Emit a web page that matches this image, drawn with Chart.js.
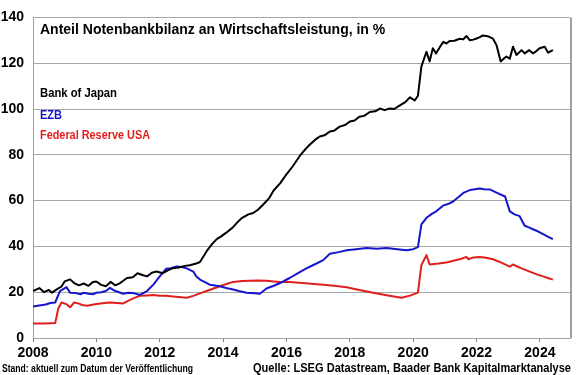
<!DOCTYPE html>
<html>
<head>
<meta charset="utf-8">
<script src="https://cdn.jsdelivr.net/npm/chart.js@4"></script>
<style>
  html, body { margin: 0; padding: 0; background: #fff; }
  #wrap { width: 580px; height: 375px; }
</style>
</head>
<body>
<div id="wrap"><canvas id="myChart" width="580" height="375"></canvas></div>
<script>
// Anteil Notenbankbilanz an Wirtschaftsleistung, in %
const titleText = 'Anteil Notenbankbilanz an Wirtschaftsleistung, in %';
const seriesNames = ['Bank of Japan', 'EZB', 'Federal Reserve USA'];
const noteLeft = 'Stand: aktuell zum Datum der Veröffentlichung';
const noteRight = 'Quelle: LSEG Datastream, Baader Bank Kapitalmarktanalyse';
const yearTicks = [2008, 2010, 2012, 2014, 2016, 2018, 2020, 2022, 2024];
const valueTicks = [0, 20, 40, 60, 80, 100, 120, 140];

// Bank of Japan (year as decimal, share in %)
const bojYears = [2008.0, 2008.2, 2008.35, 2008.5, 2008.6, 2008.75, 2008.9, 2009.0, 2009.17, 2009.3,
  2009.45, 2009.6, 2009.75, 2009.9, 2010.0, 2010.15, 2010.3, 2010.45, 2010.6, 2010.75,
  2010.97, 2011.15, 2011.3, 2011.45, 2011.6, 2011.75, 2011.9, 2012.1, 2012.25, 2012.4,
  2012.6, 2012.8, 2012.95, 2013.15, 2013.27, 2013.4, 2013.5, 2013.65, 2013.8, 2013.95,
  2014.1, 2014.3, 2014.45, 2014.6, 2014.8, 2014.95, 2015.1, 2015.26, 2015.45, 2015.6,
  2015.8, 2016.0, 2016.2, 2016.42, 2016.6, 2016.74, 2016.9, 2017.05, 2017.2, 2017.37,
  2017.5, 2017.68, 2017.85, 2018.0, 2018.15, 2018.3, 2018.45, 2018.63, 2018.8, 2018.95,
  2019.1, 2019.26, 2019.4, 2019.58, 2019.75, 2019.9, 2020.05, 2020.15, 2020.26, 2020.42,
  2020.52, 2020.62, 2020.72, 2020.84, 2020.95, 2021.05, 2021.15, 2021.3, 2021.47, 2021.58,
  2021.68, 2021.79, 2021.9, 2022.0, 2022.1, 2022.2, 2022.35, 2022.52, 2022.63, 2022.76,
  2022.94, 2023.05, 2023.15, 2023.26, 2023.42, 2023.52, 2023.66, 2023.78, 2023.88, 2023.99,
  2024.15, 2024.26, 2024.41];
const bojValues = [20.5, 21.8, 20.0, 21.0, 19.8, 21.2, 22.5, 24.7, 25.6, 24.0,
  23.0, 23.8, 22.8, 24.5, 24.7, 23.2, 22.6, 24.5, 23.0, 24.0,
  26.2, 26.5, 28.3, 27.5, 26.9, 28.5, 29.0, 28.3, 29.5, 30.4,
  30.8, 31.5, 31.8, 32.5, 33.2, 36.0, 38.3, 41.0, 43.2, 44.5,
  46.0, 48.2, 50.5, 52.5, 54.0, 54.6, 56.0, 58.2, 61.0, 64.5,
  67.5, 71.5, 75.0, 79.5, 82.5, 84.5, 86.5, 88.0, 88.5, 90.2,
  90.5, 92.3, 93.0, 94.5, 95.0, 96.6, 97.0, 98.7, 99.0, 100.2,
  99.5, 100.2, 100.0, 101.6, 103.0, 105.1, 103.7, 105.8, 118.6, 125.0,
  120.8, 126.5, 124.3, 127.0, 129.3, 128.6, 129.7, 129.8, 130.7, 130.4,
  131.9, 130.0, 130.3, 130.8, 131.4, 132.1, 131.8, 130.7, 127.9, 120.8,
  122.9, 122.0, 127.2, 123.6, 125.7, 124.3, 125.7, 124.3, 125.2, 126.5,
  127.2, 124.6, 125.7];

// EZB
const ezbYears = [2008.0, 2008.2, 2008.4, 2008.55, 2008.7, 2008.85, 2009.06, 2009.17, 2009.35, 2009.5,
  2009.6, 2009.75, 2009.9, 2010.0, 2010.15, 2010.3, 2010.43, 2010.6, 2010.85, 2011.0,
  2011.2, 2011.37, 2011.6, 2011.8, 2012.0, 2012.2, 2012.35, 2012.53, 2012.7, 2012.85,
  2013.06, 2013.15, 2013.27, 2013.58, 2013.9, 2014.1, 2014.32, 2014.5, 2014.74, 2015.0,
  2015.16, 2015.37, 2015.6, 2015.8, 2016.1, 2016.35, 2016.63, 2016.9, 2017.16, 2017.37,
  2017.65, 2017.9, 2018.2, 2018.53, 2018.85, 2019.16, 2019.5, 2019.79, 2020.0, 2020.15,
  2020.26, 2020.42, 2020.6, 2020.73, 2020.94, 2021.1, 2021.26, 2021.47, 2021.6, 2021.79,
  2021.95, 2022.1, 2022.25, 2022.42, 2022.63, 2022.9, 2023.05, 2023.2, 2023.36, 2023.52,
  2023.65, 2023.78, 2023.95, 2024.1, 2024.25, 2024.41];
const ezbValues = [13.7, 14.2, 14.6, 15.3, 15.5, 20.5, 22.2, 19.8, 19.6, 19.1,
  19.8, 19.3, 19.1, 19.8, 20.0, 20.5, 21.9, 20.5, 19.3, 19.8,
  19.5, 18.8, 20.5, 23.3, 26.9, 30.2, 30.5, 31.2, 31.0, 30.4,
  29.0, 27.0, 25.5, 23.3, 22.6, 21.8, 21.2, 20.5, 19.8, 19.5,
  19.3, 21.6, 22.8, 24.0, 26.2, 28.2, 30.4, 32.2, 34.0, 36.8,
  37.5, 38.3, 38.8, 39.3, 39.0, 39.3, 38.8, 38.3, 38.8, 39.7,
  49.6, 52.5, 54.3, 55.3, 57.8, 58.5, 59.6, 62.0, 63.5, 64.6,
  65.0, 65.3, 65.0, 64.9, 63.5, 61.8, 55.3, 54.0, 53.2, 49.0,
  48.3, 47.5, 46.5, 45.4, 44.3, 43.2];

// Federal Reserve USA
const fedYears = [2008.0, 2008.35, 2008.7, 2008.8, 2008.9, 2009.05, 2009.17, 2009.3, 2009.45, 2009.55,
  2009.7, 2010.0, 2010.2, 2010.43, 2010.65, 2010.85, 2011.0, 2011.2, 2011.37, 2011.6,
  2011.8, 2012.0, 2012.2, 2012.5, 2012.85, 2013.06, 2013.27, 2013.48, 2013.7, 2013.9,
  2014.1, 2014.32, 2014.6, 2014.85, 2015.1, 2015.37, 2015.6, 2015.8, 2016.1, 2016.6,
  2017.16, 2017.5, 2017.9, 2018.3, 2018.74, 2019.2, 2019.63, 2019.9, 2020.15, 2020.26,
  2020.42, 2020.52, 2020.8, 2021.05, 2021.3, 2021.5, 2021.68, 2021.75, 2021.9, 2022.1,
  2022.3, 2022.52, 2022.8, 2023.05, 2023.15, 2023.4, 2023.68, 2023.9, 2024.1, 2024.25,
  2024.41];
const fedValues = [6.3, 6.3, 6.5, 13.0, 15.5, 14.8, 13.4, 15.5, 15.0, 14.4,
  14.1, 14.8, 15.2, 15.5, 15.3, 15.1, 16.2, 17.5, 18.4, 18.6,
  18.8, 18.5, 18.4, 18.0, 17.6, 18.4, 19.5, 20.5, 21.6, 22.6,
  23.6, 24.5, 24.9, 25.0, 25.1, 25.0, 24.7, 24.5, 24.5, 23.9,
  23.3, 22.8, 22.2, 21.0, 19.8, 18.6, 17.6, 18.5, 19.8, 31.9,
  36.2, 32.1, 32.5, 33.0, 33.8, 34.5, 35.4, 34.4, 35.2, 35.4,
  35.0, 34.4, 32.8, 31.2, 32.1, 30.5, 29.0, 27.8, 26.9, 26.2,
  25.5];

const seriesColors = ['#000000', '#1515cc', '#e01e1e'];

function toPoints(xs, ys) {
    return xs.map((x, i) => ({ x: x, y: ys[i] }));
}

// draw text squeezed horizontally to a given width (the original uses a narrow bold face)
function fitText(ctx, text, x, y, width, align) {
    const w = ctx.measureText(text).width;
    const sx = Math.min(1, width / w);
    ctx.save();
    ctx.textAlign = 'left';
    const left = align === 'right' ? x - w * sx : x;
    ctx.translate(left, y);
    ctx.scale(sx, 1);
    ctx.fillText(text, 0, 0);
    ctx.restore();
}

// Title, legend labels, plot frame and footer notes
const annotations = {
    id: 'annotations',
    afterDraw(chart) {
        const ctx = chart.ctx;
        const area = chart.chartArea;
        ctx.save();
        // right frame line
        ctx.strokeStyle = '#7f7f7f';
        ctx.lineWidth = 1.5;
        ctx.beginPath();
        ctx.moveTo(area.right + 1, area.top);
        ctx.lineTo(area.right + 1, area.bottom);
        ctx.stroke();

        ctx.textBaseline = 'alphabetic';
        ctx.fillStyle = '#000';
        ctx.font = 'bold 14px "Liberation Sans", Arial, sans-serif';
        fitText(ctx, titleText, area.left + 7, area.top + 16.5, 350);

        ctx.font = 'bold 12.5px "Liberation Sans", Arial, sans-serif';
        const legendY = [96.5, 119, 139];
        const legendW = [77, 22, 110];
        seriesNames.forEach((name, i) => {
            ctx.fillStyle = seriesColors[i];
            fitText(ctx, name, area.left + 7, legendY[i], legendW[i]);
        });

        ctx.fillStyle = '#000';
        ctx.font = 'bold 10px "Liberation Sans", Arial, sans-serif';
        fitText(ctx, noteLeft, 2, 372, 191);
        ctx.font = 'bold 12.5px "Liberation Sans", Arial, sans-serif';
        fitText(ctx, noteRight, 571, 372, 318, 'right');
        ctx.restore();
    }
};

const ctx = document.getElementById('myChart');
const myChart = new Chart(ctx, {
    type: 'line',
    data: {
        datasets: [
            { label: seriesNames[0], data: toPoints(bojYears, bojValues), borderColor: seriesColors[0] },
            { label: seriesNames[1], data: toPoints(ezbYears, ezbValues), borderColor: seriesColors[1] },
            { label: seriesNames[2], data: toPoints(fedYears, fedValues), borderColor: seriesColors[2] }
        ]
    },
    options: {
        responsive: false,
        animation: false,
        layout: { padding: { top: 10, right: 10, left: 0, bottom: 0 } },
        elements: {
            line: { borderWidth: 2, tension: 0, borderJoinStyle: 'round' },
            point: { radius: 0 }
        },
        scales: {
            x: {
                type: 'linear',
                min: 2008,
                max: 2024.95,
                afterBuildTicks(scale) {
                    scale.ticks = yearTicks.map(v => ({ value: v }));
                },
                afterFit(scale) { scale.height = 37; },
                border: { display: true, color: '#a0a0a0', width: 1 },
                grid: { drawOnChartArea: false, drawTicks: true, tickLength: 4, color: '#808080' },
                ticks: {
                    color: '#000',
                    padding: 3,
                    maxRotation: 0,
                    font: { family: '"Liberation Sans", Arial, sans-serif', size: 14, weight: 'bold' },
                    callback: v => String(v)
                }
            },
            y: {
                min: 0,
                max: 140,
                afterBuildTicks(scale) {
                    scale.ticks = valueTicks.map(v => ({ value: v }));
                },
                afterFit(scale) { scale.width = 33; },
                border: { display: true, color: '#a0a0a0', width: 1 },
                grid: { color: '#a6a6a6', lineWidth: 1, drawTicks: false },
                ticks: {
                    color: '#000',
                    padding: 9,
                    font: { family: '"Liberation Sans", Arial, sans-serif', size: 14, weight: 'bold' }
                }
            }
        },
        plugins: {
            legend: { display: false },
            title: { display: false },
            tooltip: { enabled: false }
        }
    },
    plugins: [annotations]
});
</script>
</body>
</html>
